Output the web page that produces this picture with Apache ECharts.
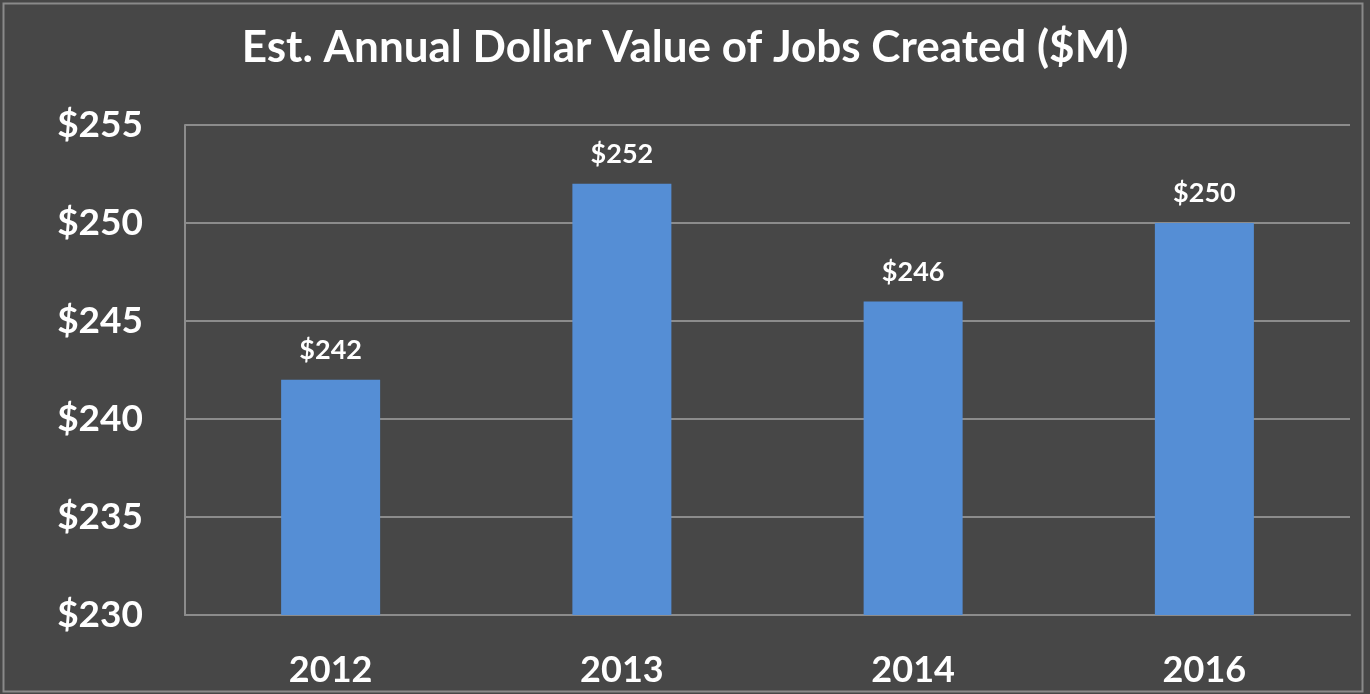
<!DOCTYPE html>
<html><head><meta charset="utf-8">
<script src="https://cdn.jsdelivr.net/npm/echarts@6/dist/echarts.min.js"></script>
<style>html,body{margin:0;padding:0;background:#474747;}#c{width:1370px;height:694px;}</style>
</head><body><div id="c"></div>
<script>
const categories = ['2012', '2013', '2014', '2016'];
const values = [242, 252, 246, 250];
const yTicks = [230, 235, 240, 245, 250, 255];
const titleText = 'Est. Annual Dollar Value of Jobs Created ($M)';

const chart = echarts.init(document.getElementById('c'));
chart.setOption({
  backgroundColor: '#474747',
  animation: false,
  title: {
    text: titleText, left: 'center', top: 21,
    textStyle: { color: '#ffffff', fontFamily: 'Lato', fontWeight: 'bold', fontSize: 44 }
  },
  graphic: [{
    type: 'rect', shape: { x: 3.5, y: 3.5, width: 1359, height: 688 },
    style: { fill: 'none', stroke: '#8a8a8a', lineWidth: 2 }, silent: true
  }],
  grid: { left: 185, right: 20, top: 125, bottom: 79 },
  xAxis: {
    type: 'category', data: categories,
    axisLine: { show: true, lineStyle: { color: '#8c8c8c', width: 2 } },
    axisTick: { show: false },
    axisLabel: { color: '#ffffff', fontFamily: 'Lato', fontWeight: 'bold', fontSize: 36, margin: 37 }
  },
  yAxis: {
    type: 'value', min: yTicks[0], max: yTicks[yTicks.length - 1], interval: 5,
    axisLine: { show: true, lineStyle: { color: '#8c8c8c', width: 2 } },
    axisTick: { show: false },
    splitLine: { show: true, lineStyle: { color: '#8c8c8c', width: 2 } },
    axisLabel: { color: '#ffffff', fontFamily: 'Lato', fontWeight: 'bold', fontSize: 37, margin: 42,
      formatter: v => '$' + v }
  },
  series: [{
    type: 'bar', data: values, barWidth: 99,
    itemStyle: { color: '#558ED5' },
    label: { show: true, position: 'top', distance: 16, color: '#ffffff', fontFamily: 'Lato', fontWeight: 'bold', fontSize: 27,
      formatter: p => '$' + p.value }
  }]
});
</script></body></html>
